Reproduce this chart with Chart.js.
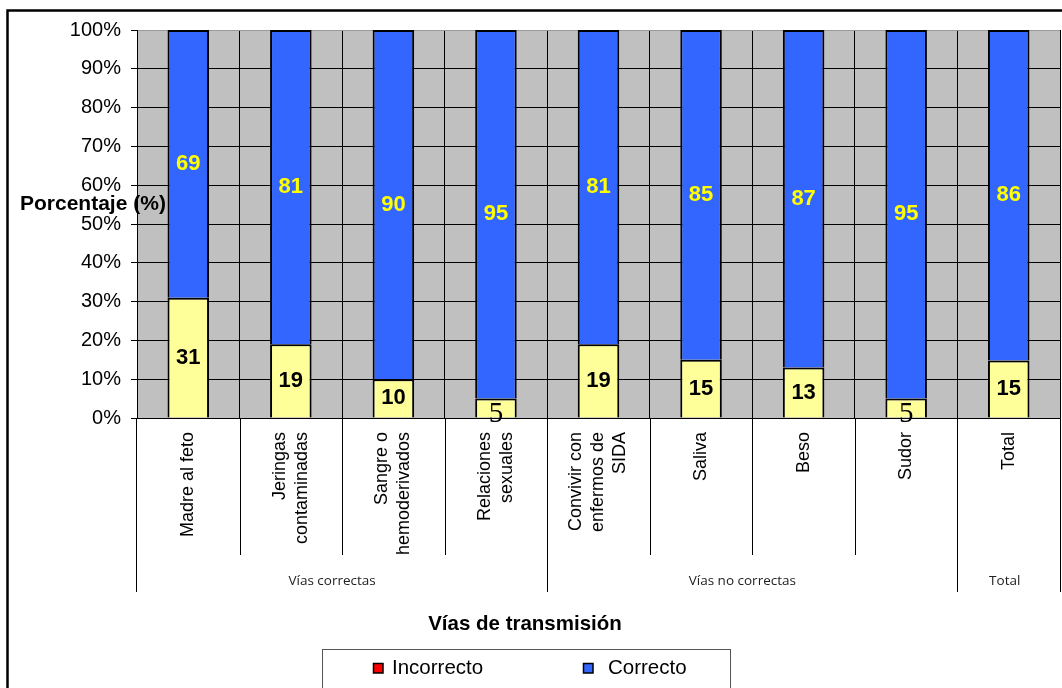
<!DOCTYPE html>
<html>
<head>
<meta charset="utf-8">
<script src="https://cdn.jsdelivr.net/npm/chart.js@4.4.1/dist/chart.umd.min.js"></script>
<style>
  html, body { margin: 0; padding: 0; background: #fff; }
  #wrap { width: 1062px; height: 688px; }
</style>
</head>
<body>
<div id="wrap"><canvas id="viasChart" width="1062" height="688"></canvas></div>
<script>
/**
 * Categories (each label split into its lines) and the groups they belong to.
 */
let categorias = [
    ['Madre al feto'],
    ['Jeringas', 'contaminadas'],
    ['Sangre o', 'hemoderivados'],
    ['Relaciones', 'sexuales'],
    ['Convivir con', 'enfermos de', 'SIDA'],
    ['Saliva'],
    ['Beso'],
    ['Sudor'],
    ['Total']
];
let grupos = ['Vías correctas', 'Vías no correctas', 'Total'];
let grupoTamano = [4, 4, 1];

/**
 * Percentages shown on the bars.
 */
let incorrecto = [31, 19, 10, 5, 19, 15, 13, 5, 15];
let correcto = [69, 81, 90, 95, 81, 85, 87, 95, 86];

let yTicks = [0, 10, 20, 30, 40, 50, 60, 70, 80, 90, 100];

const SANS = '"Liberation Sans", Arial, sans-serif';

/**
 * 100% stacked: each segment is its share of the bar total.
 */
function share(a, b) {
    return a.map((v, i) => v / (v + b[i]) * 100);
}

/**
 * Gray plot background, outer frame, labels, separators and legend.
 */
let decor = {
    id: 'decor',
    beforeDraw(chart) {
        let c = chart.ctx, a = chart.chartArea;
        c.save();
        c.fillStyle = '#C0C0C0';
        c.fillRect(a.left, a.top, a.right - a.left, a.bottom - a.top);
        c.restore();
    },
    afterDraw(chart) {
        let c = chart.ctx, a = chart.chartArea, x = chart.scales.x;
        let step = (a.right - a.left) / categorias.length;
        let sepX = k => Math.round(a.left + k * step) + 0.5;
        c.save();

        // outer frame
        c.strokeStyle = '#000';
        c.lineWidth = 2.5;
        c.strokeRect(7.5, 10.5, 1120, 720);

        // data labels
        chart.data.datasets.forEach((ds, di) => {
            let meta = chart.getDatasetMeta(di);
            meta.data.forEach((el, i) => {
                let v = ds.rawValues[i];
                let cy = (el.y + el.base) / 2;
                c.textAlign = 'center';
                c.textBaseline = 'middle';
                if (v < 8) {
                    c.font = '29px "Liberation Serif", "Times New Roman", serif';
                    cy += 6;
                } else {
                    c.font = 'bold 22px ' + SANS;
                }
                c.fillStyle = di === 0 ? '#000' : '#FFFF00';
                c.fillText(String(v), el.x, cy);
            });
        });

        // category separators and rotated labels
        c.strokeStyle = '#000';
        c.lineWidth = 1;
        for (let k = 1; k < categorias.length; k++) {
            c.beginPath();
            c.moveTo(sepX(k), a.bottom);
            c.lineTo(sepX(k), 555);
            c.stroke();
        }
        c.fillStyle = '#000';
        c.font = '18px ' + SANS;
        c.textAlign = 'right';
        c.textBaseline = 'middle';
        categorias.forEach((lines, i) => {
            let cx = x.getPixelForValue(i);
            lines.forEach((line, j) => {
                c.save();
                c.translate(cx + (j - (lines.length - 1) / 2) * 22, a.bottom + 14);
                c.rotate(-Math.PI / 2);
                c.fillText(line, 0, 0);
                c.restore();
            });
        });

        // group separators and labels
        let start = 0;
        let edges = [0];
        grupoTamano.forEach(n => { start += n; edges.push(start); });
        edges.forEach(k => {
            let px = k === 0 ? a.left - 0.5 : sepX(k);
            c.beginPath();
            c.moveTo(px, a.bottom);
            c.lineTo(px, 592);
            c.stroke();
        });
        c.font = '13.5px "Open Sans", "Noto Sans", sans-serif';
        c.textAlign = 'center';
        c.fillStyle = '#222';
        grupos.forEach((g, gi) => {
            let l = a.left + edges[gi] * step, r = a.left + edges[gi + 1] * step;
            let off = grupoTamano[gi] > 1 ? -10 : -4;
            c.fillText(g, (l + r) / 2 + off, 581);
        });

        // axis titles
        c.fillStyle = '#000';
        c.font = 'bold 20.5px ' + SANS;
        c.textAlign = 'center';
        c.fillText('Vías de transmisión', 525, 624);
        c.textAlign = 'left';
        c.font = 'bold 21px ' + SANS;
        c.fillText('Porcentaje (%)', 20, 204);

        // legend box
        c.strokeStyle = '#555';
        c.lineWidth = 1;
        c.strokeRect(322.5, 649.5, 408, 60);
        let legendColors = ['#FF0000', '#3366FF'];
        let legendX = [373, 583];
        c.font = '20.5px ' + SANS;
        c.textAlign = 'left';
        chart.data.datasets.forEach((ds, di) => {
            c.fillStyle = legendColors[di];
            c.fillRect(legendX[di], 663, 10, 10);
            c.strokeStyle = '#000';
            c.lineWidth = 1.5;
            c.strokeRect(legendX[di] + 0.5, 663.5, 9.5, 9.5);
            c.fillStyle = '#000';
            c.fillText(ds.label, legendX[di] + (di === 0 ? 19 : 25), 668);
        });
        c.restore();
    }
};

let ctx = document.getElementById('viasChart').getContext('2d');

let viasChart = new Chart(ctx, {
    type: 'bar',
    data: {
        labels: categorias.map(l => l.join(' ')),
        datasets: [{
            label: 'Incorrecto',
            data: share(incorrecto, correcto),
            rawValues: incorrecto,
            backgroundColor: '#FFFF99',
            borderColor: '#000',
            borderWidth: 2
        }, {
            label: 'Correcto',
            data: share(correcto, incorrecto),
            rawValues: correcto,
            backgroundColor: '#3366FF',
            borderColor: '#000',
            borderWidth: 2
        }]
    },
    options: {
        responsive: false,
        animation: false,
        layout: { padding: { top: 30, left: 0, right: 2, bottom: 0 } },
        plugins: {
            legend: { display: false },
            tooltip: { enabled: false }
        },
        datasets: {
            bar: { categoryPercentage: 1, barPercentage: 0.405 }
        },
        scales: {
            x: {
                stacked: true,
                offset: true,
                afterFit: s => { s.height = 270; },
                ticks: { display: false },
                grid: {
                    offset: true,
                    drawTicks: false,
                    color: c => c.index === categorias.length ? '#9a9a9a' : '#000',
                    lineWidth: 1
                },
                border: { color: '#000', width: 1 }
            },
            y: {
                stacked: true,
                min: 0,
                max: 100,
                afterFit: s => { s.width = 137; },
                afterBuildTicks: s => { s.ticks = yTicks.map(v => ({ value: v })); },
                ticks: {
                    padding: 10,
                    color: '#000',
                    font: { family: SANS, size: 20 },
                    callback: v => v + '%'
                },
                grid: {
                    color: c => c.tick && c.tick.value === 100 ? '#9a9a9a' : '#000',
                    tickColor: '#000',
                    tickLength: 6,
                    lineWidth: 1
                },
                border: { color: '#000', width: 1 }
            }
        }
    },
    plugins: [decor]
});
</script>
</body>
</html>
